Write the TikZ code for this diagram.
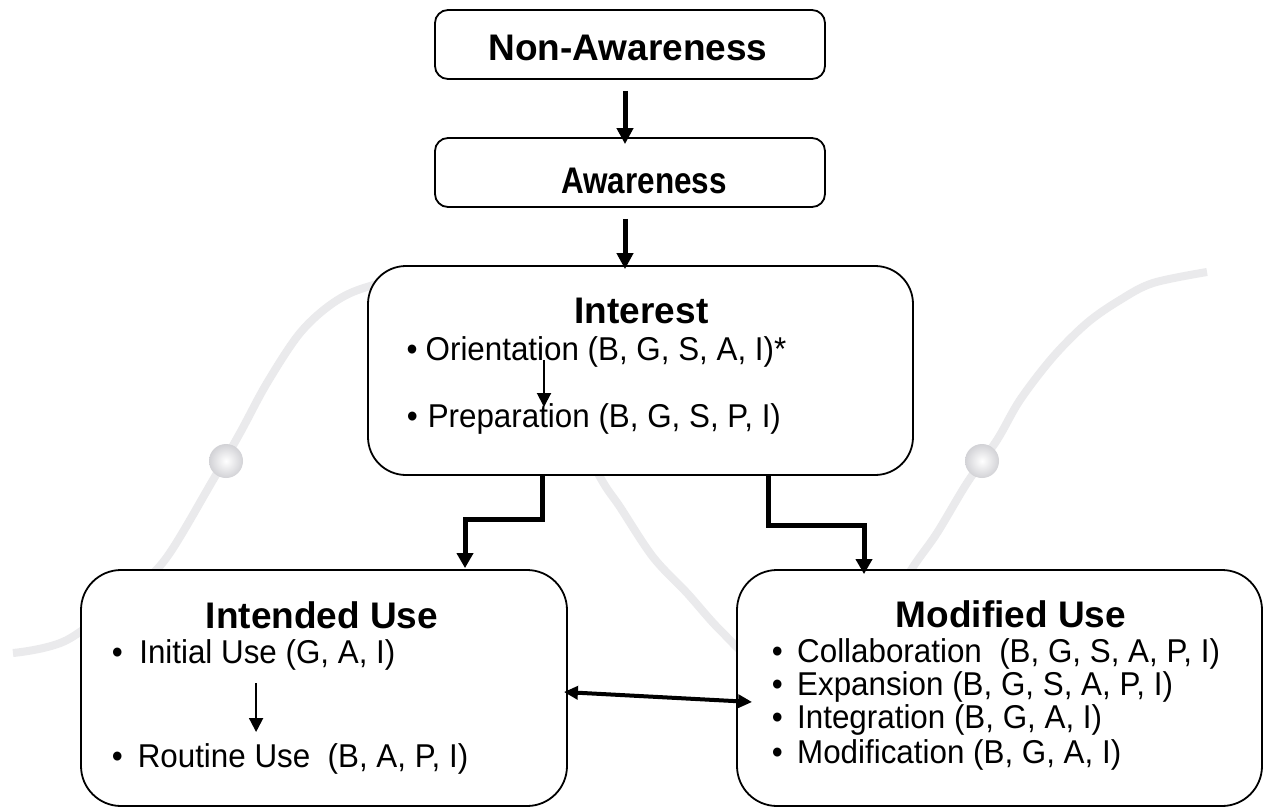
\documentclass[tikz,border=0pt]{standalone}
\usepackage{fontspec}
\setmainfont{Liberation Sans}
\newfontfamily\bodyfont[FakeStretch=0.95]{Liberation Sans}
\usetikzlibrary{arrows.meta}
\definecolor{wave}{RGB}{234,234,236}
\definecolor{ballrim}{RGB}{210,210,214}
\tikzset{
  box/.style={draw=black, line width=1.8pt, fill=white, rectangle, inner sep=0pt},
  title/.style={font=\fontsize{37pt}{44pt}\selectfont\bfseries, anchor=base, inner sep=0pt},
  item/.style={font=\bodyfont\fontsize{33pt}{39pt}\selectfont, anchor=base west, inner sep=0pt},
  bigarrow/.style={line width=5pt, -{Triangle[width=16pt,length=16pt]}},
  elbow/.style={line width=5pt, -{Triangle[width=16pt,length=15pt]}},
  thinarrow/.style={line width=2pt, -{Triangle[width=14pt,length=14pt]}},
  duoarrow/.style={line width=4pt, {Triangle[width=13pt,length=14pt]}-{Triangle[width=13pt,length=14pt]}},
  wavepath/.style={draw=wave, line width=8pt, line cap=butt},
  wball/.style={inner color=white, outer color=ballrim},
}
\newcommand{\bul}[1]{\llap{\textbullet\hspace{#1}}}
\begin{document}
\begin{tikzpicture}[x=1pt,y=-1pt]
\useasboundingbox (0,0) rectangle (1266,809);
\fill[white] (0,0) rectangle (1266,809);
% background wave
\draw[wavepath] plot[smooth, tension=0.55] coordinates {
 (13,653) (67,640) (133,590) (167,557) (213,480) (240,433) (267,383) (300,333)
 (333,303) (367,287) (430,274) (500,300) (560,400) (600,477) (620,507) (653,557)
 (687,593) (720,630) (760,665) (820,680) (880,620) (913,567) (937,533) (967,483)
 (997,440) (1020,400) (1053,357) (1087,323) (1120,300) (1153,283) (1207,272)};
\shade[wball] (226,461) circle (17);
\shade[wball] (982,461) circle (17);

% boxes
\node[box, rounded corners=13pt, minimum width=390pt, minimum height=69pt] (na) at (630,44.5) {};
\node[box, rounded corners=13pt, minimum width=390pt, minimum height=69pt] (aw) at (630,172.5) {};
\node[box, rounded corners=38pt, minimum width=545pt, minimum height=209pt] (in) at (640.5,370.5) {};
\node[box, rounded corners=40pt, minimum width=486pt, minimum height=236pt] (iu) at (324,688) {};
\node[box, rounded corners=40pt, minimum width=525pt, minimum height=236pt] (mu) at (999.5,688) {};

% texts
\node[title] (nat) at (628,60) {Non-Awareness};
\node[title] (awt) at (644,193) {\scalebox{0.85}[1]{Awareness}};
\node[title] (int) at (641.5,323) {Interest};
\node[item] (or) at (425.5,360) {\bul{8pt}Orientation (B, G, S, A, I)*};
\node[item] (pr) at (427.6,427) {\bul{10pt}Preparation (B, G, S, P, I)};
\node[title] (iut) at (322,628) {Intended Use};
\node[item] (iu1) at (139.1,663) {\bul{16.5pt}Initial Use (G, A, I)};
\node[item] (iu2) at (137.6,767) {\bul{15pt}Routine Use\ \ (B, A, P, I)};
\node[title] (mut) at (1011,627) {Modified Use};
\node[item] (m1) at (797,662) {\bul{14.4pt}Collaboration\ \ (B, G, S, A, P, I)};
\node[item] (m2) at (797,695.7) {\bul{14.4pt}Expansion (B, G, S, A, P, I)};
\node[item] (m3) at (797,728.3) {\bul{14.4pt}Integration (B, G, A, I)};
\node[item] (m4) at (797,763.3) {\bul{14.4pt}Modification (B, G, A, I)};

% connectors
\draw[bigarrow] ([shift={(-5,11)}]na.south) -- ([shift={(-5,7)}]aw.north);
\draw[bigarrow] ([shift={(-5,11)}]aw.south) -- ([shift={(-15.5,4)}]in.north);
\draw[elbow] ([shift={(-98.5,0)}]in.south) -- ++(0,44) -| ([shift={(141,-1)}]iu.north);
\draw[elbow] ([shift={(127.5,0)}]in.south) -- ++(0,50) -| ([shift={(-135.5,5)}]mu.north);
\draw[thinarrow] ([shift={(118.5,0)}]or.base west) -- ([shift={(118.5,47)}]or.base west);
\draw[thinarrow] ([shift={(117,20)}]iu1.base west) -- ([shift={(117,69)}]iu1.base west);
\draw[duoarrow] ([shift={(-4,4)}]iu.east) -- ([shift={(16,14)}]mu.west);
\end{tikzpicture}
\end{document}
